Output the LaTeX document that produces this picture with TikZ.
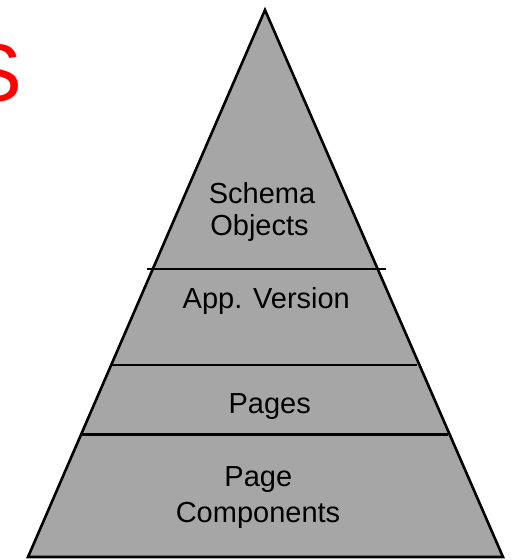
\documentclass[tikz,border=0pt]{standalone}
\usepackage{fontspec}
\setmainfont{Liberation Sans}
\definecolor{layerfill}{RGB}{166,166,166}
\definecolor{titlered}{RGB}{255,0,0}
\begin{document}
\begin{tikzpicture}[x=1pt,y=-1pt,
  outline/.style={draw=black,line width=2.6pt},
  divider/.style={draw=black,line width=2.6pt},
  label/.style={anchor=base,inner sep=0pt,font=\fontsize{29}{33}\selectfont},
  title/.style={anchor=base west,inner sep=0pt,text=titlered,font=\fontsize{82}{90}\selectfont}]
\useasboundingbox (0,0) rectangle (514,560);
\clip (0,0) rectangle (514,560);

% pyramid corners
\coordinate (apex) at (265,10);
\coordinate (bl) at (28,557);
\coordinate (br) at (503,557);

% the pyramid
\filldraw[outline,fill=layerfill,line join=miter] (apex) -- (br) -- (bl) -- cycle;

% layer dividers
\coordinate (d1l) at (147,269);  \coordinate (d1r) at (386,269);
\coordinate (d2l) at (111.7,365); \coordinate (d2r) at (417,365);
\coordinate (d3l) at (81.7,434.5); \coordinate (d3r) at (447.5,434.5);
\draw[divider] (d1l) -- (d1r);
\draw[divider] (d2l) -- (d2r);
\draw[divider] (d3l) -- (d3r);

% layer labels
\node[label] (schema)  at (262,203)   {Schema};
\node[label] (objects) at (259.5,235.5) {Objects};
\node[label] (appver)  at (266.3,308.3) {App. Version};
\node[label] (pages)   at (269.7,413.3) {Pages};
\node[label] (page)    at (258.3,486.7) {Page};
\node[label] (comps)   at (258,522)   {Components};

% heading letter at the left edge
\node[title] (heading) at (-32.4,101) {S};
\end{tikzpicture}
\end{document}
